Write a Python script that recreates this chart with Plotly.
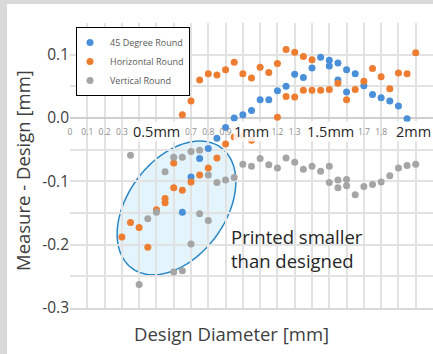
import numpy as np
import plotly.graph_objects as go

# ---------------- data ----------------
deg45_x = [0.65, 0.7, 0.75, 0.8, 0.85, 0.9, 0.95, 1.0, 1.05, 1.1, 1.15, 1.2, 1.25, 1.3, 1.35,
           1.4, 1.45, 1.5, 1.5, 1.55, 1.55, 1.6, 1.6, 1.65, 1.7, 1.75, 1.8, 1.85, 1.9, 1.95]
deg45_y = [-0.149, -0.093, -0.064, -0.048, -0.032, -0.015, 0.000, 0.005, 0.012, 0.029, 0.029,
           0.043, 0.050, 0.069, 0.064, 0.079, 0.096, 0.091, 0.082, 0.087, 0.060, 0.076, 0.041,
           0.070, 0.051, 0.037, 0.032, 0.027, 0.019, -0.001]

horiz_x = [0.3, 0.35, 0.4, 0.45, 0.5, 0.55, 0.55, 0.6, 0.6, 0.65, 0.65, 0.7, 0.7, 0.75, 0.75,
           0.8, 0.8, 0.85, 0.85, 0.9, 0.9, 0.95, 0.95, 1.0, 1.0, 1.05, 1.05, 1.1, 1.15, 1.2, 1.2,
           1.25, 1.25, 1.3, 1.3, 1.35, 1.35, 1.4, 1.4, 1.45, 1.5, 1.55, 1.6, 1.65, 1.7, 1.75,
           1.8, 1.85, 1.9, 1.95, 2.0]
horiz_y = [-0.188, -0.165, -0.173, -0.204, -0.145, -0.127, -0.134, -0.071, -0.110, -0.114, 0.005,
           -0.101, 0.027, -0.090, 0.060, -0.079, 0.070, -0.063, 0.068, -0.041, 0.076, -0.030,
           0.088, -0.028, 0.070, -0.035, 0.063, 0.080, 0.072, 0.086, 0.001, 0.108, 0.034, 0.104,
           0.033, 0.097, 0.044, 0.092, 0.044, 0.044, 0.045, 0.055, 0.029, 0.045, 0.058, 0.078,
           0.065, 0.046, 0.071, 0.070, 0.103]

vert_x = [0.35, 0.4, 0.45, 0.5, 0.55, 0.6, 0.6, 0.65, 0.65, 0.7, 0.7, 0.75, 0.75, 0.8, 0.8,
          0.85, 0.9, 0.95, 1.0, 1.05, 1.1, 1.15, 1.2, 1.25, 1.3, 1.35, 1.4, 1.45, 1.5, 1.5,
          1.55, 1.55, 1.6, 1.6, 1.65, 1.7, 1.75, 1.8, 1.85, 1.9, 1.95, 2.0]
vert_y = [-0.059, -0.263, -0.159, -0.149, -0.085, -0.062, -0.243, -0.062, -0.241, -0.053, -0.199,
          -0.051, -0.151, -0.090, -0.162, -0.102, -0.098, -0.094, -0.073, -0.076, -0.064, -0.074,
          -0.079, -0.063, -0.070, -0.081, -0.076, -0.084, -0.076, -0.102, -0.098, -0.110, -0.097,
          -0.107, -0.121, -0.108, -0.105, -0.101, -0.091, -0.079, -0.075, -0.073]

series_names = ["45 Degree Round", "Horizontal Round", "Vertical Round"]

# small axis labels along y = 0 (those hidden under the big "mm" labels are blank)
x_tick_values = [0, 0.1, 0.2, 0.3, 0.4, 0.5, 0.6, 0.7, 0.8, 0.9, 1.0, 1.1, 1.2, 1.3, 1.4,
                 1.5, 1.6, 1.7, 1.8, 1.9, 2.0]
x_tick_labels = ["0", "0.1", "0.2", "0.3", "", "", "", "0.7", "0.8", "0.9", "",
                 "", "1.2", "1.3", "", "", "", "1.7", "1.8", "", ""]
y_tick_values = [-0.3, -0.25, -0.2, -0.15, -0.1, -0.05, 0.0, 0.05, 0.1, 0.15]
y_tick_labels = ["-0.3", "", "-0.2", "", "-0.1", "", "0.0", "", "0.1", ""]

big_labels = ["0.5mm", "1mm", "1.5mm", "2mm"]
big_label_pos = [0.5, 1.05, 1.505, 1.99]

note_text = "Printed smaller<br>than designed"

# ---------------- layout constants ----------------
W, H = 433, 354
ML, MR, MT, MB = 70, 0, 23, 46
XR = [0, 2.1]
YR = [-0.3, 0.15]
PW, PH = W - ML - MR, H - MT - MB
SX = PW / (XR[1] - XR[0])
SY = PH / (YR[1] - YR[0])

FONT = "Open Sans"
C_BLUE, C_ORANGE, C_GRAY = "#4A90D9", "#ED7D31", "#A5A5A5"
GRID = "#E2E2E2"

fig = go.Figure()
for name, xs, ys, col in [(series_names[0], deg45_x, deg45_y, C_BLUE),
                          (series_names[1], horiz_x, horiz_y, C_ORANGE),
                          (series_names[2], vert_x, vert_y, C_GRAY)]:
    fig.add_trace(go.Scatter(x=xs, y=ys, mode="markers", name=name,
                             marker=dict(color=col, size=7, line=dict(width=0))))

# highlight ellipse (rotated in screen space) -> convert to data units
cx, cy = 0.616, -0.142           # centre (data)
a_px, b_px, ang = 75.0, 48.7, np.deg2rad(53.5)
t = np.linspace(0, 2 * np.pi, 120)
dx = a_px * np.cos(t) * np.cos(ang) - b_px * np.sin(t) * np.sin(ang)
dy = a_px * np.cos(t) * np.sin(ang) + b_px * np.sin(t) * np.cos(ang)
ex = cx + dx / SX
ey = cy + dy / SY
path = "M " + " L ".join(f"{x:.5f},{y:.5f}" for x, y in zip(ex, ey)) + " Z"

shapes = [
    dict(type="rect", xref="paper", yref="paper",
         x0=(7 - ML) / PW, x1=1 + 5 / PW, y0=-(MB + 5) / PH, y1=1 + (MT - 4) / PH,
         fillcolor="white", line=dict(width=0), layer="below"),
    dict(type="path", xref="x", yref="y", path=path,
         fillcolor="rgba(168,222,248,0.32)", line=dict(color="#2A88C6", width=1.5),
         layer="below"),
]

annotations = []
for lab, xp in zip(big_labels, big_label_pos):
    annotations.append(dict(x=xp, y=0, xref="x", yref="y", yshift=-13.5, text=lab,
                            showarrow=False, font=dict(family=FONT, size=14.5, color="#262626"),
                            bgcolor="rgba(255,255,255,0.85)", borderpad=0,
                            xanchor="center", yanchor="middle"))
annotations.append(dict(x=0.92, y=-0.2065, xref="x", yref="y", text=note_text,
                        showarrow=False, align="left", xanchor="left", yanchor="middle",
                        font=dict(family=FONT, size=18.5, color="#262626")))
annotations.append(dict(x=(231 - ML) / PW, y=-(333 - MT - PH) / PH, xref="paper", yref="paper",
                        text="Design Diameter [mm]", showarrow=False,
                        xanchor="center", yanchor="middle",
                        font=dict(family=FONT, size=18.5, color="#404040")))
annotations.append(dict(x=-(ML - 23) / PW, y=1 - (171 - MT) / PH, xref="paper", yref="paper",
                        text="Measure - Design [mm]", showarrow=False, textangle=-90,
                        xanchor="center", yanchor="middle",
                        font=dict(family=FONT, size=18.5, color="#404040")))

fig.update_layout(
    width=W, height=H,
    margin=dict(l=ML, r=MR, t=MT, b=MB),
    paper_bgcolor="#D9D9D9", plot_bgcolor="white",
    font=dict(family=FONT, color="#404040"),
    shapes=shapes, annotations=annotations,
    showlegend=True,
    legend=dict(x=(76 - ML) / PW, y=1 - (27 - MT) / PH, xanchor="left", yanchor="top",
                bgcolor="white", bordercolor="black", borderwidth=1,
                font=dict(family=FONT, size=9, color="#595959"),
                itemwidth=30, tracegroupgap=0, indentation=-7),
    xaxis=dict(range=XR, tickvals=x_tick_values, showticklabels=False, ticks="",
               showgrid=True, gridcolor=GRID, gridwidth=1.5, zeroline=False,
               showline=True, linecolor="#D9D9D9", linewidth=1.5),
    xaxis2=dict(range=XR, overlaying="x", anchor="free", side="bottom",
                position=(0 - YR[0]) / (YR[1] - YR[0]),
                tickvals=x_tick_values, ticktext=x_tick_labels, ticks="",
                tickfont=dict(family=FONT, size=8.5, color="#8C8C8C"),
                showgrid=False, zeroline=False, showline=False, ticklabelstandoff=7),
    yaxis=dict(range=YR, tickvals=y_tick_values, ticktext=y_tick_labels, ticks="",
               tickfont=dict(family=FONT, size=15.5, color="#404040"),
               showgrid=True, gridcolor=GRID, gridwidth=1.5,
               zeroline=True, zerolinecolor="#CFCFCF", zerolinewidth=1.5,
               showline=False),
)
# invisible helper trace so that the overlaid tick-label axis (x2) is drawn
fig.add_trace(go.Scatter(x=[None], y=[None], xaxis="x2", yaxis="y", showlegend=False,
                         hoverinfo="skip"))

fig.write_html("out.html")
